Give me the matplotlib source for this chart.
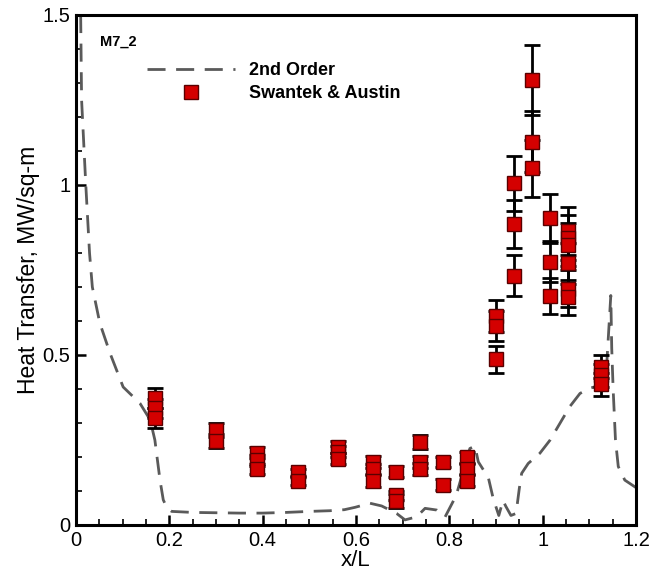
import numpy as np
import matplotlib
matplotlib.use("Agg")
import matplotlib.pyplot as plt
from matplotlib.ticker import MultipleLocator

plt.rcParams['font.family'] = ['Liberation Sans', 'DejaVu Sans']

# 2nd order computation along the body
cfd_x = [0.010, 0.012, 0.021, 0.029, 0.035, 0.051, 0.073, 0.101, 0.137, 0.159,
         0.169, 0.180, 0.187, 0.195, 0.205, 0.250, 0.300, 0.350, 0.400, 0.450,
         0.500, 0.544, 0.575, 0.598, 0.630, 0.655, 0.687, 0.705, 0.730, 0.748,
         0.773, 0.791, 0.808, 0.816, 0.830, 0.844, 0.855, 0.862, 0.873, 0.884,
         0.894, 0.906, 0.915, 0.921, 0.932, 0.943, 0.950, 0.955, 0.969, 0.994,
         1.016, 1.037, 1.058, 1.080, 1.101, 1.120, 1.135, 1.146, 1.148, 1.151,
         1.156, 1.162, 1.176, 1.200]
cfd_q = [1.500, 1.250, 1.000, 0.800, 0.700, 0.594, 0.505, 0.406, 0.358, 0.309,
         0.250, 0.132, 0.074, 0.050, 0.040, 0.037, 0.036, 0.035, 0.035, 0.037,
         0.040, 0.042, 0.045, 0.052, 0.064, 0.056, 0.034, 0.015, 0.024, 0.049,
         0.044, 0.024, 0.069, 0.093, 0.160, 0.225, 0.232, 0.186, 0.162, 0.137,
         0.078, 0.028, 0.072, 0.055, 0.028, 0.034, 0.108, 0.152, 0.181, 0.211,
         0.250, 0.299, 0.348, 0.387, 0.402, 0.410, 0.420, 0.675, 0.520, 0.400,
         0.250, 0.172, 0.132, 0.110]

# Swantek & Austin measurements
exp_x = [0.169, 0.169, 0.169,
         0.300, 0.300,
         0.387, 0.387, 0.387,
         0.475, 0.475,
         0.561, 0.561, 0.561,
         0.637, 0.637, 0.637,
         0.686, 0.686, 0.686,
         0.737, 0.737, 0.737,
         0.787, 0.787,
         0.837, 0.837, 0.837,
         0.901, 0.901, 0.901,
         0.938, 0.938, 0.938,
         0.978, 0.978, 0.978,
         1.016, 1.016, 1.016,
         1.054, 1.054, 1.054, 1.054, 1.054, 1.054,
         1.126, 1.126, 1.126]
exp_q = [0.373, 0.344, 0.315,
         0.279, 0.247,
         0.213, 0.190, 0.165,
         0.155, 0.130,
         0.230, 0.215, 0.195,
         0.185, 0.165, 0.130,
         0.157, 0.088, 0.070,
         0.245, 0.186, 0.165,
         0.186, 0.118,
         0.199, 0.164, 0.130,
         0.615, 0.585, 0.487,
         1.005, 0.885, 0.733,
         1.309, 1.127, 1.049,
         0.902, 0.774, 0.674,
         0.865, 0.845, 0.825, 0.770, 0.695, 0.670,
         0.466, 0.441, 0.414]
exp_err = [0.030, 0.028, 0.030,
           0.020, 0.020,
           0.015, 0.015, 0.015,
           0.010, 0.012,
           0.017, 0.016, 0.016,
           0.017, 0.014, 0.017,
           0.016, 0.013, 0.020,
           0.020, 0.017, 0.018,
           0.015, 0.016,
           0.017, 0.014, 0.016,
           0.047, 0.045, 0.039,
           0.080, 0.070, 0.060,
           0.103, 0.090, 0.083,
           0.072, 0.060, 0.052,
           0.070, 0.066, 0.064, 0.060, 0.055, 0.052,
           0.035, 0.034, 0.034]

fig = plt.figure(figsize=(6.51, 5.71), dpi=100)
ax = fig.add_axes([76 / 651, 46 / 571, 560 / 651, 510 / 571])

ax.plot(cfd_x, cfd_q, color='#5a5a5a', lw=2.0, dashes=(6.5, 3.8),
        label='2nd Order', zorder=2)
ax.errorbar(exp_x, exp_q, yerr=exp_err, fmt='none', ecolor='black',
            elinewidth=2.0, capsize=6, capthick=2.0, zorder=3)
ax.plot(exp_x, exp_q, 's', color='#d40000', markeredgecolor='#5a0000',
        markeredgewidth=1.0, markersize=9.5, linestyle='none',
        label='Swantek & Austin', zorder=4)

ax.set_xlim(0, 1.2)
ax.set_ylim(0, 1.5)
ax.xaxis.set_minor_locator(MultipleLocator(0.05))
ax.yaxis.set_minor_locator(MultipleLocator(0.1))
ax.set_xticks([0, 0.2, 0.4, 0.6, 0.8, 1.0, 1.2])
ax.set_xticklabels(['0', '0.2', '0.4', '0.6', '0.8', '1', '1.2'])
ax.set_yticks([0, 0.5, 1.0, 1.5])
ax.set_yticklabels(['0', '0.5', '1', '1.5'])

ax.tick_params(which='both', direction='in', top=False, right=False,
               labelsize=14.5, width=1.8)
ax.tick_params(which='major', length=7, pad=4)
ax.tick_params(which='minor', length=4, width=1.2)
for sp in ax.spines.values():
    sp.set_linewidth(2.2)

ax.set_xlabel('x/L', fontsize=16, labelpad=0)
ax.set_ylabel('Heat Transfer, MW/sq-m', fontsize=16.5, labelpad=2)

ax.text(0.051, 1.42, 'M7_2', fontsize=10.5, fontweight='bold', va='center')

leg = ax.legend(loc='upper left', bbox_to_anchor=(147 / 651, 1 - 62 / 571),
                bbox_transform=fig.transFigure, frameon=False,
                handlelength=4.9, handletextpad=0.75, labelspacing=0.35,
                borderpad=0, borderaxespad=0,
                prop={'size': 13, 'weight': 'bold'})

fig.savefig('out.png', dpi=100)
